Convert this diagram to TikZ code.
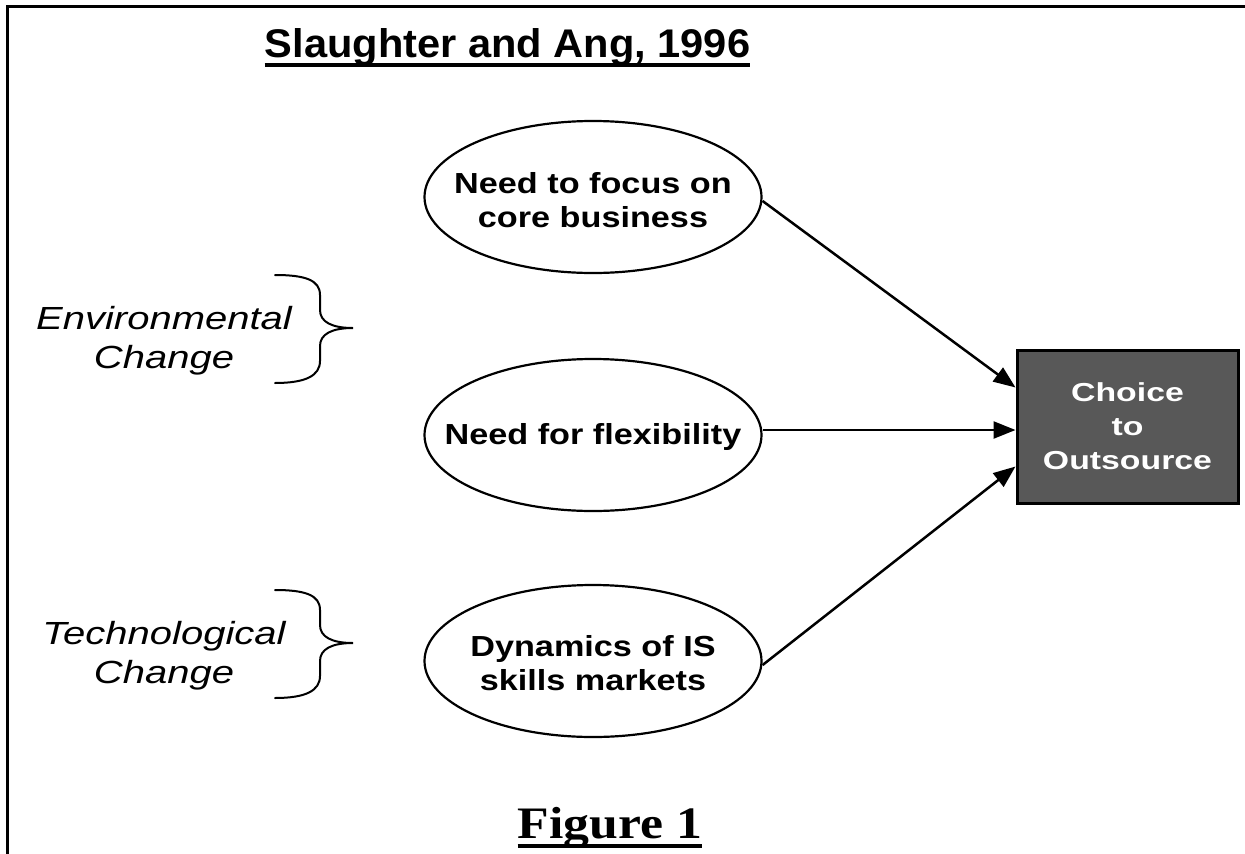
\documentclass[tikz,border=0pt]{standalone}
\usepackage{fontspec}
\setmainfont{Liberation Sans}
\newfontfamily\titlefont[FakeStretch=1.04]{Liberation Sans}
\newfontfamily\ellfont[FakeStretch=1.18]{Liberation Sans}
\newfontfamily\boxfont[FakeStretch=1.3]{Liberation Sans}
\newfontfamily\labfont[FakeStretch=1.25]{Liberation Sans}
\newfontfamily\figfont[FakeStretch=1.15]{Liberation Serif}
\usetikzlibrary{shapes.geometric,arrows.meta}
\definecolor{boxgray}{RGB}{88,88,88}
\tikzset{
  ell/.style={ellipse, draw, line width=2.2pt, minimum width=337pt, minimum height=152pt, inner sep=0pt},
  elltext/.style={inner sep=0pt, align=center, font=\ellfont\bfseries\fontsize{29}{34}\selectfont},
  choicebox/.style={rectangle, draw, line width=3pt, fill=boxgray, minimum width=221pt, minimum height=153pt, inner sep=0pt, align=center, text=white, font=\boxfont\bfseries\fontsize{26}{34}\selectfont},
  arr/.style={line width=2.5pt, -{Triangle[length=22pt,width=17pt]}},
  bracestyle/.style={line width=2pt, line cap=round},
  lab/.style={align=center, inner sep=0pt, font=\labfont\itshape\fontsize{32}{39}\selectfont},
  uline/.style={line width=4pt}
}
\begin{document}
\begin{tikzpicture}[x=1pt,y=-1pt]
\useasboundingbox (0,0) rectangle (1245,854);
% frame
\draw[line width=3pt, line join=miter] (7,860) -- (7,6) -- (1250,6);
% title
\node[anchor=base, inner sep=0pt, font=\titlefont\bfseries\fontsize{40}{48}\selectfont] (title) at (507.5,57) {Slaughter and Ang, 1996};
\draw[uline] ([yshift=-8pt]title.base west) -- ([yshift=-8pt]title.base east);
% ellipses
\node[ell] (e1) at (593,197) {};
\node[elltext] (e1t) at ([yshift=-3pt]e1.center) {Need to focus on\\core business};
\node[ell] (e2) at (593,435) {};
\node[elltext] (e2t) at ([yshift=-2pt]e2.center) {Need for flexibility};
\node[ell] (e3) at (593,661) {};
\node[elltext] (e3t) at ([yshift=-2pt]e3.center) {Dynamics of IS\\skills markets};
% box
\node[choicebox] (box) at (1127.5,426.5) {Choice\\to\\Outsource};
% arrows
\draw[arr] ([yshift=-4pt]e1.east) -- ([yshift=39pt]box.west);
\draw[arr] ([yshift=5pt]e2.east) -- ([yshift=-3.5pt]box.west);
\draw[arr] ([yshift=-4pt]e3.east) -- ([yshift=-40pt]box.west);
% braces
\draw[bracestyle] (275,275) .. controls (305,275) and (320,280) .. (320,295) -- (320,310) .. controls (320,322) and (332,328) .. (353,328) .. controls (332,328) and (320,334) .. (320,346) -- (320,361) .. controls (320,376) and (305,383) .. (275,383);
\begin{scope}[shift={(0,315)}]
\draw[bracestyle] (275,275) .. controls (305,275) and (320,280) .. (320,295) -- (320,310) .. controls (320,322) and (332,328) .. (353,328) .. controls (332,328) and (320,334) .. (320,346) -- (320,361) .. controls (320,376) and (305,383) .. (275,383);
\end{scope}
% labels
\node[lab] (env) at (164,341) {Environmental\\Change};
\node[lab] (tech) at (164,656) {Technological\\Change};
% figure caption
\node[anchor=base, inner sep=0pt, font=\figfont\bfseries\fontsize{45}{54}\selectfont] (fig) at (610,838) {Figure 1};
\draw[uline] ([yshift=-7.5pt]fig.base west) -- ([yshift=-7.5pt]fig.base east);
\end{tikzpicture}
\end{document}
